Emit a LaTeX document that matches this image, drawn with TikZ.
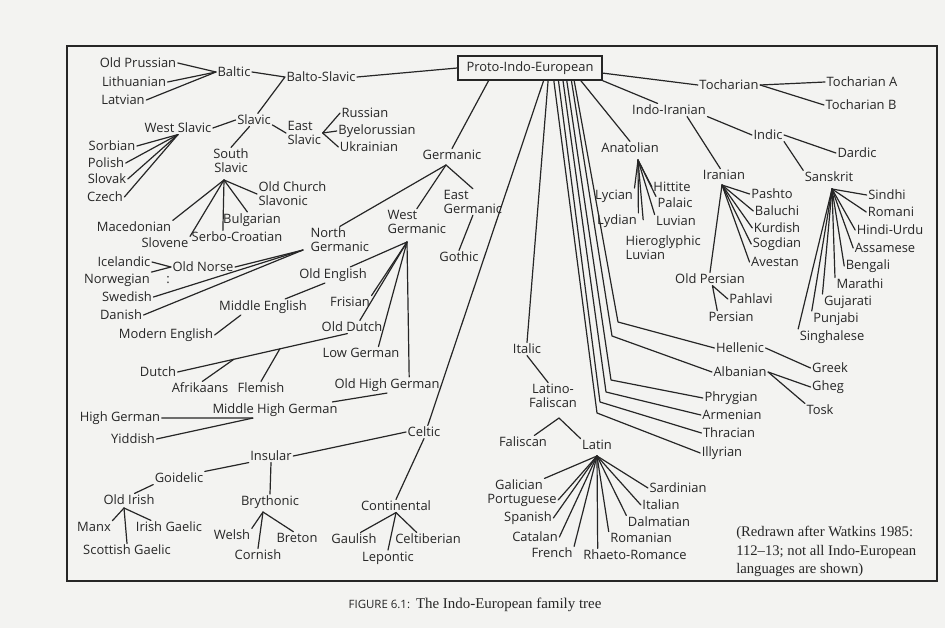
\documentclass[tikz,border=0pt]{standalone}
\usepackage{fontspec}
\newfontfamily\lang{Open Sans}
\newfontfamily\serf{Liberation Serif}
\newcommand\lsz{\lang\fontsize{9.7}{10.5}\selectfont}
\definecolor{ink}{HTML}{262626}
\definecolor{paper}{HTML}{F3F3F1}
\begin{document}
\begin{tikzpicture}[x=0.75pt,y=-0.75pt,
  lab/.style={font=\lsz, inner sep=1pt, text=ink, align=center},
  ml/.style={lab, align=left},
  lk/.style={line width=0.9pt, draw=ink, line cap=round, line join=round}]
\useasboundingbox (0,0) rectangle (945,628);
\fill[paper] (0,0) rectangle (945,628);
\draw[line width=1.4pt, ink] (67,46) rectangle (937,581);

% root
\node[lab, draw=ink, line width=1pt, minimum width=108pt, minimum height=18pt] (pie) at (530,68) {Proto-Indo-European};

% Balto-Slavic
\node[lab] (oprus) at (138,63) {Old Prussian};
\node[lab] (lith) at (134,82) {Lithuanian};
\node[lab] (latv) at (123,100) {Latvian};
\node[lab] (baltic) at (234,72) {Baltic};
\node[lab] (bslav) at (321,77) {Balto-Slavic};
\node[lab] (slavic) at (254,120) {Slavic};
\node[lab] (wslav) at (178,128) {West Slavic};
\node[ml, anchor=west] (eslav) at (286,133) {East\\Slavic};
\node[lab] (sslav) at (231,161) {South\\Slavic};
\node[lab] (sorb) at (112,146) {Sorbian};
\node[lab] (pol) at (106,163) {Polish};
\node[lab] (slk) at (107,179) {Slovak};
\node[lab] (cz) at (105,197) {Czech};
\node[lab] (rus) at (365,113) {Russian};
\node[lab] (bye) at (377,131) {Byelorussian};
\node[lab] (ukr) at (369,147) {Ukrainian};
\node[ml, anchor=west] (ocs) at (257,194) {Old Church\\Slavonic};
\node[lab] (mac) at (134,227) {Macedonian};
\node[lab] (slo) at (165,243) {Slovene};
\node[lab] (bul) at (252,220) {Bulgarian};
\node[lab] (sc) at (237,237) {Serbo-Croatian};

% Germanic
\node[lab] (germ) at (452,155) {Germanic};
\node[ml, anchor=west] (ngerm) at (309,240) {North\\Germanic};
\node[ml, anchor=west] (wgerm) at (386,222) {West\\Germanic};
\node[ml, anchor=west] (egerm) at (442,202) {East\\Germanic};
\node[lab] (goth) at (459,257) {Gothic};
\node[lab] (oe) at (333,275) {Old English};
\node[lab] (fris) at (350,302) {Frisian};
\node[lab] (odutch) at (352,327) {Old Dutch};
\node[lab] (lg) at (361,353) {Low German};
\node[lab] (ohg) at (387,385) {Old High German};
\node[lab] (mhg) at (275,410) {Middle High German};
\node[lab] (ice) at (124,262) {Icelandic};
\node[lab] (nor) at (117,280) {Norwegian};
\node[lab] (on) at (203,267) {Old Norse};
\node[lab] (colon) at (168,280) {:};
\node[lab] (swe) at (127,297) {Swedish};
\node[lab] (dan) at (121,315) {Danish};
\node[lab] (me) at (263,307) {Middle English};
\node[lab] (mode) at (166,335) {Modern English};
\node[lab] (dutch) at (158,372) {Dutch};
\node[lab] (afr) at (200,388) {Afrikaans};
\node[lab] (flem) at (261,388) {Flemish};
\node[lab] (hg) at (120,418) {High German};
\node[lab] (yid) at (133,439) {Yiddish};

% Celtic
\node[lab] (celt) at (424,432) {Celtic};
\node[lab] (ins) at (271,456) {Insular};
\node[lab] (goid) at (179,478) {Goidelic};
\node[lab] (oir) at (129,500) {Old Irish};
\node[lab] (manx) at (94,527) {Manx};
\node[lab] (irg) at (169,527) {Irish Gaelic};
\node[lab] (scg) at (127,550) {Scottish Gaelic};
\node[lab] (bry) at (270,502) {Brythonic};
\node[lab] (wel) at (232,535) {Welsh};
\node[lab] (bre) at (297,538) {Breton};
\node[lab] (cor) at (258,555) {Cornish};
\node[lab] (cont) at (396,506) {Continental};
\node[lab] (gaul) at (354,539) {Gaulish};
\node[lab] (celtib) at (428,539) {Celtiberian};
\node[lab] (lep) at (388,558) {Lepontic};

% Italic
\node[lab] (ital) at (527,349) {Italic};
\node[lab] (latfal) at (553,396) {Latino-\\Faliscan};
\node[lab] (fal) at (523,442) {Faliscan};
\node[lab] (lat) at (597,445) {Latin};
\node[lab] (gal) at (519,485) {Galician};
\node[lab] (por) at (522,500) {Portuguese};
\node[lab] (spa) at (528,518) {Spanish};
\node[lab] (cat) at (535,537) {Catalan};
\node[lab] (fre) at (552,553) {French};
\node[lab] (rhr) at (635,555) {Rhaeto-Romance};
\node[lab] (rom) at (641,538) {Romanian};
\node[lab] (dal) at (659,522) {Dalmatian};
\node[lab] (ita) at (661,505) {Italian};
\node[lab] (sar) at (678,488) {Sardinian};

% East
\node[lab] (toch) at (729,85) {Tocharian};
\node[lab] (tocha) at (862,82) {Tocharian A};
\node[lab] (tochb) at (861,105) {Tocharian B};
\node[lab] (ii) at (669,110) {Indo-Iranian};
\node[lab] (indic) at (768,135) {Indic};
\node[lab] (dard) at (857,153) {Dardic};
\node[lab] (skt) at (829,177) {Sanskrit};
\node[lab] (anat) at (630,148) {Anatolian};
\node[lab] (iran) at (724,175) {Iranian};
\node[lab] (hitt) at (672,187) {Hittite};
\node[lab] (pal) at (675,203) {Palaic};
\node[lab] (lyc) at (614,196) {Lycian};
\node[lab] (lyd) at (617,221) {Lydian};
\node[lab] (luv) at (676,221) {Luvian};
\node[ml, anchor=west] (hier) at (624,248) {Hieroglyphic\\Luvian};
\node[lab] (pash) at (772,194) {Pashto};
\node[lab] (bal) at (777,211) {Baluchi};
\node[lab] (kur) at (777,228) {Kurdish};
\node[lab] (sog) at (777,244) {Sogdian};
\node[lab] (ave) at (775,262) {Avestan};
\node[lab] (ope) at (710,279) {Old Persian};
\node[lab] (pahl) at (751,299) {Pahlavi};
\node[lab] (pers) at (731,317) {Persian};
\node[lab] (hel) at (740,348) {Hellenic};
\node[lab] (alb) at (740,372) {Albanian};
\node[lab] (phr) at (731,398) {Phrygian};
\node[lab] (arm) at (732,415) {Armenian};
\node[lab] (thr) at (729,433) {Thracian};
\node[lab] (ill) at (722,453) {Illyrian};
\node[lab] (gre) at (830,368) {Greek};
\node[lab] (gheg) at (828,387) {Gheg};
\node[lab] (tosk) at (820,410) {Tosk};
\node[lab] (sin) at (887,195) {Sindhi};
\node[lab] (romn) at (891,212) {Romani};
\node[lab] (hin) at (890,230) {Hindi-Urdu};
\node[lab] (ass) at (885,248) {Assamese};
\node[lab] (ben) at (868,266) {Bengali};
\node[lab] (mar) at (860,284) {Marathi};
\node[lab] (guj) at (848,302) {Gujarati};
\node[lab] (pun) at (836,319) {Punjabi};
\node[lab] (sing) at (832,337) {Singhalese};

% note and caption
\node[anchor=north west, align=left, inner sep=0pt, text=ink, font=\serf\fontsize{11}{14}\selectfont] (note) at (736,526) {(Redrawn after Watkins 1985:\\112–13; not all Indo-European\\languages are shown)};
\node[inner sep=0pt, text=ink] (cap) at (475,605) {{\lang\fontsize{8.6}{10}\selectfont FIGURE 6.1:} {\serf\fontsize{11.2}{13}\selectfont The Indo-European family tree}};

% fan points
\coordinate (ssf) at (224,180);
\coordinate (gf) at (446,165);
\coordinate (wgf) at (407,242);
\coordinate (ngf) at (303,250);
\coordinate (oif) at (124,508);
\coordinate (bryf) at (263,512);
\coordinate (lff) at (559,418);
\coordinate (latf) at (597,456);
\coordinate (sktf) at (832,189);
\coordinate (anf) at (638,160);
\coordinate (irf) at (722,185);

% Balto-Slavic links
\foreach \t in {oprus,lith,latv} \draw[lk] (baltic.west) -- (\t.east);
\draw[lk] (baltic.east) -- (bslav.west) -- (slavic.60);
\draw[lk] (bslav.east) -- (pie.west);
\draw[lk] (slavic.west) -- (wslav.east);
\draw[lk] (slavic.235) -- (sslav.north);
\draw[lk] (slavic.-15) -- (eslav.west);
\foreach \t in {rus,bye,ukr} \draw[lk] (eslav.east) -- (\t.west);
\foreach \t in {sorb,pol,slk,cz} \draw[lk] (wslav.south) -- (\t.east);
\foreach \t in {ocs.west, bul.120, sc.155, slo.north east, mac.north east} \draw[lk] (ssf) -- (\t);

% Germanic links
\draw[lk] (pie.197) -- (germ.north);
\foreach \t in {ngerm.north, wgerm.north, egerm.north} \draw[lk] (gf) -- (\t);
\draw[lk] (egerm.south) -- (goth.north);
\foreach \t in {oe.25, fris.north east, odutch.40, lg.20, ohg.20} \draw[lk] (wgf) -- (\t);
\foreach \t in {on.east, swe.east, dan.east} \draw[lk] (ngf) -- (\t);
\draw[lk] (ice.east) -- (on.west);
\draw[lk] (nor.north east) -- (on.west);
\draw[lk] (oe.225) -- (me.20);
\draw[lk] (me.200) -- (mode.east);
\draw[lk] (odutch.235) -- coordinate[pos=0.669] (dA) coordinate[pos=0.398] (dF) (dutch.east);
\draw[lk] (afr.70) -- (dA);
\draw[lk] (flem.north) -- (dF);
\draw[lk] (ohg.south) -- (mhg.8);
\draw[lk] (mhg.200) -- (hg.east);
\draw[lk] (mhg.200) -- (yid.east);

% Celtic links
\draw[lk] (pie.-43) -- (celt.60);
\draw[lk] (celt.west) -- (ins.east);
\draw[lk] (celt.south) -- (cont.north);
\draw[lk] (ins.south west) -- (goid.north east);
\draw[lk] (ins.south) -- (bry.north);
\draw[lk] (goid.south west) -- (oir.50);
\foreach \t in {manx.north east, irg.160, scg.north} \draw[lk] (oif) -- (\t);
\foreach \t in {wel.north east, cor.north, bre.120} \draw[lk] (bryf) -- (\t);
\foreach \t in {gaul.45, lep.north, celtib.150} \draw[lk] (cont.south) -- (\t);

% Italic links
\draw[lk] (pie.-35) -- (ital.north);
\draw[lk] (ital.south) -- (latfal.110);
\draw[lk] (lff) -- (fal.30);
\draw[lk] (lff) -- (lat.north west);
\foreach \t in {gal.north east, por.east, spa.east, cat.east, fre.north east, rhr.170, rom.north west, dal.north west, ita.west, sar.west} \draw[lk] (latf) -- (\t);

% eastern links
\draw[lk] (pie.-4) -- (toch.west);
\draw[lk] (pie.south east) -- (ii.150);
\draw[lk] (pie.-14) -- (anat.north);
\draw[lk] (pie.-16) -- (618,322) -- (hel.west);
\draw[lk] (pie.-17.5) -- (612,336) -- (alb.west);
\draw[lk] (pie.-19.5) -- (611,380) -- (phr.west);
\draw[lk] (pie.-21.8) -- (606,392) -- (arm.west);
\draw[lk] (pie.-24.8) -- (600,402) -- (thr.west);
\draw[lk] (pie.-28.6) -- (597,413) -- (ill.west);
\draw[lk] (toch.east) -- (tocha.west);
\draw[lk] (toch.east) -- (tochb.west);
\draw[lk] (ii.south east) -- (indic.west);
\draw[lk] (ii.-20) -- (iran.120);
\draw[lk] (indic.east) -- (dard.west);
\draw[lk] (indic.south east) -- (skt.north west);
\foreach \t in {sin.west, romn.west, hin.west, ass.west, ben.west, mar.north west, guj.north west, pun.north west, sing.north west} \draw[lk] (sktf) -- (\t);
\foreach \t in {lyc.north east, lyd.north east, hitt.west, pal.north west, luv.north west} \draw[lk] (anf) -- (\t);
\draw[lk, shorten >=11pt] (anf) -- (hier.144);
\foreach \t in {pash.west, bal.west, kur.west, sog.west, ave.west, ope.north} \draw[lk] (irf) -- (\t);
\draw[lk] (pers.155) -- (ope.-70) -- (pahl.west);
\draw[lk] (hel.east) -- (gre.west);
\draw[lk] (alb.east) -- (gheg.west);
\draw[lk] (alb.east) -- (tosk.north west);
\end{tikzpicture}
\end{document}
